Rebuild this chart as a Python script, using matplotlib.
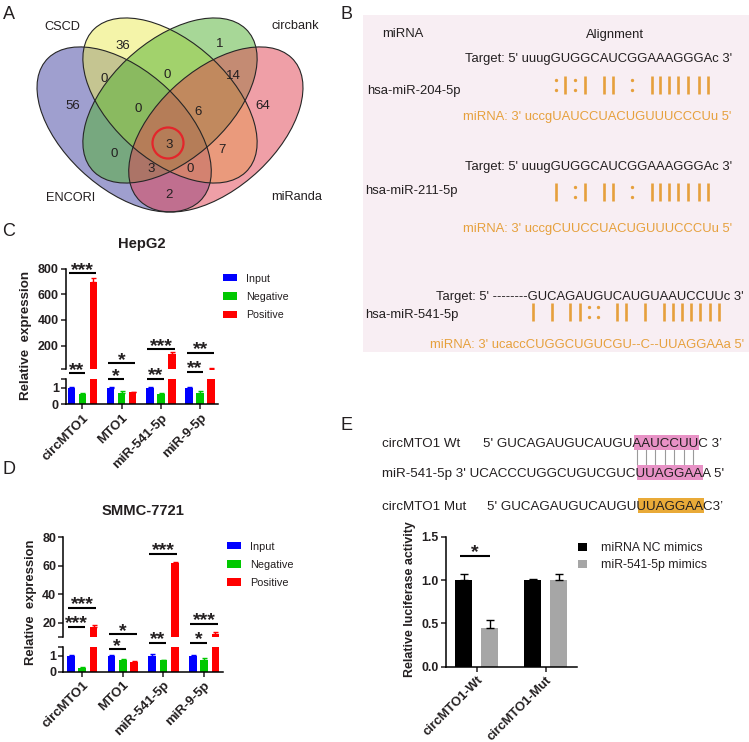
import numpy as np
import matplotlib
matplotlib.use('Agg')
import matplotlib.pyplot as plt
from matplotlib.patches import Ellipse, Rectangle, Circle
from matplotlib.font_manager import FontProperties
from matplotlib.transforms import blended_transform_factory

plt.rcParams['font.family'] = ['Liberation Sans', 'DejaVu Sans']

W, H = 749, 742

# ---- panel A: venn counts ----
venn_names = ['ENCORI', 'CSCD', 'circbank', 'miRanda']
venn_regions = ['1000', '0100', '0010', '0001', '1100', '0110', '0011', '1110',
                '0111', '1010', '1111', '0101', '1011', '1101', '1001']
venn_counts = [56, 36, 1, 64, 0, 0, 14, 0, 6, 0, 3, 7, 3, 0, 2]

# ---- panel B: alignments ----
b_mirnas = ['hsa-miR-204-5p', 'hsa-miR-211-5p', 'hsa-miR-541-5p']
b_targets = ['uuugGUGGCAUCGGAAAGGGAc', 'uuugGUGGCAUCGGAAAGGGAc',
             '--------GUCAGAUGUCAUGUAAUCCUUc']
b_seqs = ['uccgUAUCCUACUGUUUCCCUu', 'uccgCUUCCUACUGUUUCCCUu',
          'ucaccCUGGCUGUCGU--C--UUAGGAAa']
b_pairs = ['    :|:| || : ||||||| ', '    | :| || : ||||||| ',
           '        | | ||:: || | ||||||| ']

# ---- panels C / D: RIP qPCR ----
genes = ['circMTO1', 'MTO1', 'miR-541-5p', 'miR-9-5p']
rip_groups = ['Input', 'Negative', 'Positive']

hep_input = [1.0, 1.0, 1.0, 1.0]
hep_input_err = [0.05, 0.05, 0.06, 0.03]
hep_negative = [0.6, 0.7, 0.6, 0.68]
hep_negative_err = [0.06, 0.08, 0.1, 0.1]
hep_positive = [698, 0.72, 135, 22]
hep_positive_err = [25, 0.04, 15, 4]

smmc_input = [1.0, 1.0, 1.0, 1.0]
smmc_input_err = [0.03, 0.05, 0.08, 0.03]
smmc_negative = [0.25, 0.7, 0.7, 0.75]
smmc_negative_err = [0.03, 0.08, 0.06, 0.08]
smmc_positive = [17, 0.62, 62, 11.8]
smmc_positive_err = [1.2, 0.05, 0.8, 1.4]

hep_sig = [(0, 1, '**'), (0, 2, '***'), (1, 1, '*'), (1, 2, '*'),
           (2, 1, '**'), (2, 2, '***'), (3, 1, '**'), (3, 2, '**')]
smmc_sig = [(0, 1, '***'), (0, 2, '***'), (1, 1, '*'), (1, 2, '*'),
            (2, 1, '**'), (2, 2, '***'), (3, 1, '*'), (3, 2, '***')]

# ---- panel E: luciferase ----
luc_groups = ['circMTO1-Wt', 'circMTO1-Mut']
luc_series = ['miRNA NC mimics', 'miR-541-5p mimics']
luc_nc = [1.0, 1.0]
luc_nc_err = [0.065, 0.015]
luc_mimic = [0.45, 1.0]
luc_mimic_err = [0.085, 0.065]
e_wt_seq = 'GUCAGAUGUCAUGUAAUCCUUC'
e_mir_seq = 'UCACCCUGGCUGUCGUCUUAGGAAA'
e_mut_seq = 'GUCAGAUGUCAUGUUUAGGAAC'

ink = '#231F20'
orange = '#E6A03C'
bar_colors = ['#0000FF', '#00C800', '#FF0000']
bar_w = 0.19
bar_off = [-0.28, 0.0, 0.28]
star_size = 14

fig = plt.figure(figsize=(W / 100, H / 100), dpi=100)
renderer = fig.canvas.get_renderer()


def px_axes(x0, y0, x1, y1, **kw):
    return fig.add_axes([x0 / W, 1 - y1 / H, (x1 - x0) / W, (y1 - y0) / H], **kw)


def tw(s, size):
    fp = FontProperties(family=['Liberation Sans', 'DejaVu Sans'], size=size)
    return renderer.get_text_width_height_descent(s, fp, ismath=False)[0]


ov = px_axes(0, 0, W, H, zorder=5)
ov.set_xlim(0, W)
ov.set_ylim(H, 0)
ov.axis('off')
ov.patch.set_visible(False)


def put(x, y, s, size, ha='left', weight='normal', color=ink, **kw):
    # y = visual centre of the capitals
    base = y + 0.36 * size * 100 / 72
    return ov.text(x, base, s, fontsize=size, ha=ha, va='baseline',
                   fontweight=weight, color=color, **kw)


# panel letters
for lab, x, y in [('A', 9, 12.5), ('B', 347, 12.5), ('C', 9, 230), ('D', 8.5, 467.5), ('E', 346.5, 424)]:
    put(x, y, lab, 13, ha='center')

# ================= A: venn =================
va = px_axes(10, 5, 330, 230)
va.set_xlim(-0.0234, 1.0234)
va.set_ylim(0.1228, 0.8998)
va.axis('off')
ell = [(0.35, 0.47, 135), (0.50, 0.57, 135), (0.50, 0.57, 45), (0.65, 0.47, 45)]
venn_colors = ['#4141A1', '#EBEB55', '#51B131', '#E14151']
for (x, y, ang), c in zip(ell, venn_colors):
    va.add_patch(Ellipse((x, y), 0.7, 0.4, angle=ang, facecolor=c, alpha=0.5, edgecolor='none'))
for (x, y, ang) in ell:
    va.add_patch(Ellipse((x, y), 0.7, 0.4, angle=ang, facecolor='none', edgecolor='#262626', lw=0.8))

venn_xy = [(73, 104), (123, 44), (220, 42), (263, 104), (104, 77), (167, 73), (233, 74),
           (138, 107), (198, 110), (114, 152), (169, 143), (222, 148), (151, 167), (190, 167), (169, 193)]
for n, (x, y) in zip(venn_counts, venn_xy):
    put(x, y, str(n), 9.5, ha='center')
for name, (x, y) in zip(venn_names, [(70.7, 196), (62, 25), (295.8, 24), (296.7, 195)]):
    put(x, y, name, 9.2, ha='center')
ov.add_patch(Circle((168, 143), 15.5, fill=False, edgecolor='#E3262B', lw=1.6))

# ================= B: alignments =================
ov.add_patch(Rectangle((363, 15), W - 363, 337, facecolor='#F8EEF3', edgecolor='none', zorder=0))
put(403, 32, 'miRNA', 9.4, ha='center')
put(615, 33, 'Alignment', 9.4, ha='center')
b_target_x = [465, 465, 436]
b_target_y = [57, 165, 295]
b_name_x = [367, 365, 365]
b_name_y = [89, 189, 313]
b_seq_x = [463, 463, 430]
b_seq_y = [115, 227, 343]
b_mark_y = [85, 192, 312]
pre = "Target: 5' "
for k in range(3):
    t = b_targets[k]
    put(b_target_x[k], b_target_y[k], pre + t + " 3'", 9.4)
    put(b_name_x[k], b_name_y[k], b_mirnas[k], 9.4)
    put(b_seq_x[k], b_seq_y[k], "miRNA: 3' " + b_seqs[k] + " 5'", 9.4, color=orange)
    for i, m in enumerate(b_pairs[k]):
        if m == ' ':
            continue
        xc = b_target_x[k] + tw(pre + t[:i + 1], 9.4) - tw(t[i], 9.4) / 2
        ym = b_mark_y[k]
        if m == '|':
            ov.plot([xc, xc], [ym - 9, ym + 9], color=orange, lw=1.9, solid_capstyle='butt')
        else:
            ov.plot([xc, xc], [ym - 5, ym + 5], ls='none', marker='o', ms=2.4,
                    color=orange, mec='none')


# ================= C / D: broken-axis bars =================
def broken_bars(box_top, box_bot, top_lim, top_ticks, bot_lim, xlim, series, errs):
    ax_t = px_axes(*box_top)
    ax_b = px_axes(*box_bot)
    x = np.arange(len(genes))
    for ax in (ax_t, ax_b):
        for k in range(3):
            xs = x + bar_off[k]
            ax.bar(xs, series[k], width=bar_w, color=bar_colors[k], zorder=2)
            ax.errorbar(xs, series[k], yerr=[np.zeros(len(xs)), errs[k]], fmt='none',
                        ecolor=bar_colors[k], elinewidth=1, capsize=1.8, capthick=1, zorder=3)
        ax.set_xlim(*xlim)
        ax.patch.set_visible(False)
        for s in ('top', 'right'):
            ax.spines[s].set_visible(False)
        ax.spines['left'].set_linewidth(1.1)
        ax.tick_params(axis='y', length=3.5, width=1.1, pad=1.5, colors=ink)
    ax_t.spines['bottom'].set_visible(False)
    ax_t.set_xticks([])
    ax_t.set_ylim(*top_lim)
    ax_t.set_yticks([top_lim[0]] + top_ticks)
    ax_t.set_yticklabels([''] + [str(v) for v in top_ticks], fontweight='bold', fontsize=9)
    ax_b.set_ylim(*bot_lim)
    ax_b.set_yticks([0, 1, bot_lim[1]])
    ax_b.set_yticklabels(['0', '1', ''], fontweight='bold', fontsize=9)
    ax_b.spines['bottom'].set_linewidth(1.1)
    ax_b.set_xticks(x)
    ax_b.set_xticklabels(genes, rotation=45, ha='right', va='top', rotation_mode='anchor',
                         fontweight='bold', fontsize=9.5)
    ax_b.tick_params(axis='x', length=3.5, width=1.1, pad=2, colors=ink)
    return ax_t, ax_b


def brackets(ax, sig, sig_y):
    tr = blended_transform_factory(ax.transData, ov.transData)
    for (g, k, lab), y in zip(sig, sig_y):
        x1 = g + bar_off[0] - bar_w * 0.35
        x2 = g + bar_off[k] + bar_w * 0.35
        ov.plot([x1, x2], [y, y], color='black', lw=1.5, transform=tr,
                solid_capstyle='butt', clip_on=False)
        ov.text((x1 + x2) / 2, y + 1.5, lab, transform=tr, ha='center', va='baseline',
                fontsize=star_size, fontweight='bold', color=ink, clip_on=False)


def legend_block(x, ys, w, h, colors, labels, size, gap=8.5):
    for y, c, lab in zip(ys, colors, labels):
        ov.add_patch(Rectangle((x, y - h / 2), w, h, facecolor=c, edgecolor='none'))
        put(x + w + gap, y, lab, size)


# C: HepG2
hep_t, hep_b = broken_bars((65.7, 268.6, 218.3, 369.3), (65.7, 379, 218.3, 404.3),
                           (16, 800), [200, 400, 600, 800], (0, 1.52), (-0.422, 3.46),
                           [hep_input, hep_negative, hep_positive],
                           [hep_input_err, hep_negative_err, hep_positive_err])
brackets(hep_b, hep_sig, [373.3, 273.3, 379.3, 363.3, 378.7, 349.3, 372, 352.7])
put(142, 243, 'HepG2', 10.6, ha='center', weight='bold')
ov.text(26, 335, 'Relative  expression', rotation=90, ha='center', va='center',
        fontsize=9.6, fontweight='bold', color=ink)
legend_block(222.7, [277.7, 296, 314.3], 14.6, 7.2, bar_colors, rip_groups, 7.7)

# D: SMMC-7721
smmc_t, smmc_b = broken_bars((63.3, 537.3, 222.7, 636.7), (63.3, 647, 222.7, 671.7),
                             (10.2, 80), [20, 40, 60, 80], (0, 1.54), (-0.466, 3.46),
                             [smmc_input, smmc_negative, smmc_positive],
                             [smmc_input_err, smmc_negative_err, smmc_positive_err])
brackets(smmc_b, smmc_sig, [626.7, 607.7, 649.3, 634.3, 642.7, 553.7, 642.7, 623.7])
put(142.7, 510, 'SMMC-7721', 10.6, ha='center', weight='bold')
ov.text(31.3, 602.5, 'Relative  expression', rotation=90, ha='center', va='center',
        fontsize=9.4, fontweight='bold', color=ink)
legend_block(226.7, [545.7, 564, 582], 14.6, 7.2, bar_colors, rip_groups, 7.8)

# ================= E: sequences + luciferase =================
es = 9.6
hl_pink = '#E892C6'
hl_orange = '#E9AA38'


def seq_line(x0, y, pre_s, seq, post_s, a, b, hl):
    x_a = x0 + tw(pre_s + seq[:a], es) + 1.2
    x_b = x0 + tw(pre_s + seq[:b], es) + 1.2
    ov.add_patch(Rectangle((x_a, y - 7), x_b - x_a, 14.5, facecolor=hl, edgecolor='none', zorder=1))
    put(x0, y, pre_s + seq + post_s, es, zorder=2)
    return [x0 + tw(pre_s + seq[:i + 1], es) - tw(seq[i], es) / 2 for i in range(a, b)]


put(382, 442, 'circMTO1 Wt', es)
wt_centres = seq_line(483, 442, "5' ", e_wt_seq, " 3\u2019", 14, 21, hl_pink)
seq_line(382, 472, "miR-541-5p 3' ", e_mir_seq, " 5'", 17, 24, hl_pink)
put(382, 505, 'circMTO1 Mut', es)
seq_line(487, 505, "5' ", e_mut_seq, "3\u2019", 14, 21, hl_orange)
for xc in wt_centres:
    ov.plot([xc, xc], [450, 463.5], color='#9A9A9A', lw=0.8)

ax_e = px_axes(446, 536.7, 576.7, 666.7)
xe = np.arange(len(luc_groups))
luc_off = [-0.19, 0.187]
ax_e.bar(xe + luc_off[0], luc_nc, width=0.246, color='black', zorder=2)
ax_e.errorbar(xe + luc_off[0], luc_nc, yerr=[np.zeros(2), luc_nc_err], fmt='none',
              ecolor='black', elinewidth=1, capsize=3, capthick=1, zorder=3)
ax_e.bar(xe + luc_off[1], luc_mimic, width=0.246, color='#A6A6A6', zorder=2)
ax_e.errorbar(xe + luc_off[1], luc_mimic, yerr=[np.zeros(2), luc_mimic_err], fmt='none',
              ecolor='black', elinewidth=1, capsize=3, capthick=1, zorder=3)
ax_e.set_xlim(-0.445, 1.449)
ax_e.set_ylim(0, 1.5)
ax_e.set_yticks([0, 0.5, 1.0, 1.5])
ax_e.set_yticklabels(['0.0', '0.5', '1.0', '1.5'], fontweight='bold', fontsize=8.8)
ax_e.set_xticks(xe)
ax_e.set_xticklabels(luc_groups, rotation=45, ha='right', va='top', rotation_mode='anchor',
                     fontweight='bold', fontsize=9.3)
ax_e.patch.set_visible(False)
for s in ('top', 'right'):
    ax_e.spines[s].set_visible(False)
for s in ('left', 'bottom'):
    ax_e.spines[s].set_linewidth(1.1)
ax_e.tick_params(length=3.5, width=1.1, pad=2, colors=ink)

tr_e = blended_transform_factory(ax_e.transData, ov.transData)
ov.plot([luc_off[0] - 0.05, luc_off[1]], [555.7, 555.7], color='black', lw=1.5,
        transform=tr_e, solid_capstyle='butt', clip_on=False)
ov.text((luc_off[0] - 0.05 + luc_off[1]) / 2, 557.2, '*', transform=tr_e, ha='center',
        va='baseline', fontsize=star_size, fontweight='bold', color=ink)
ov.text(410, 599, 'Relative luciferase activity', rotation=90, ha='center', va='center',
        fontsize=8.9, fontweight='bold', color=ink)
legend_block(578.3, [546.7, 564], 8.4, 8.4, ['black', '#A6A6A6'], luc_series, 8.8, gap=14)

fig.savefig('out.png', dpi=100, facecolor='white')
